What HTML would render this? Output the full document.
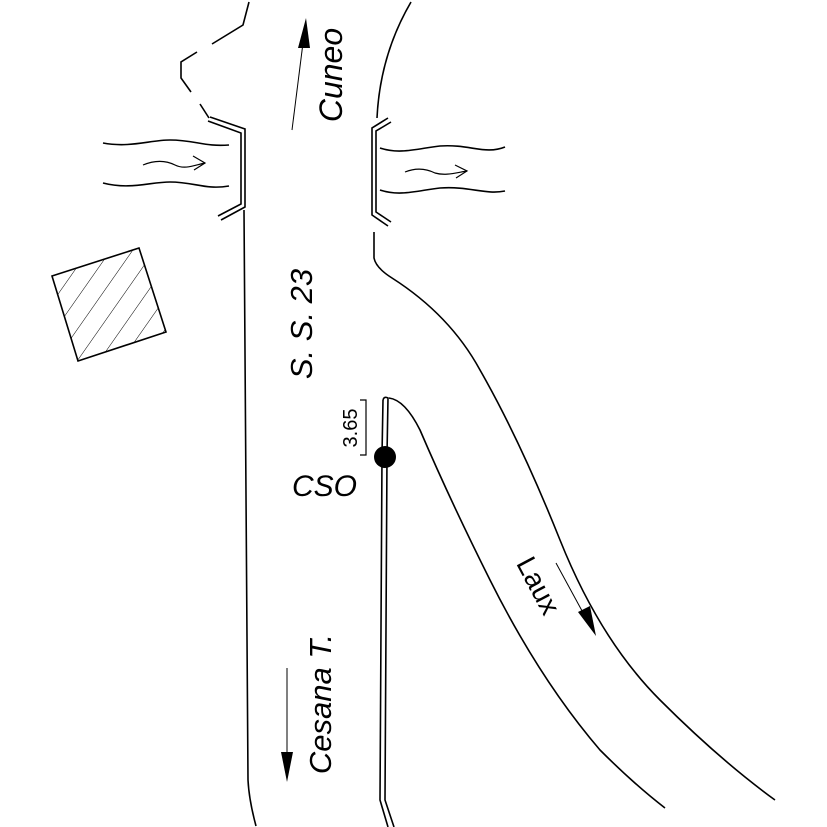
<!DOCTYPE html>
<html><head><style>body{margin:0;background:#fff}svg{display:block}</style></head><body>
<svg width="827" height="827" viewBox="0 0 827 827" xmlns="http://www.w3.org/2000/svg">
<defs>
<pattern id="h" patternUnits="userSpaceOnUse" width="18" height="18" patternTransform="rotate(35)">
<line x1="0" y1="0" x2="0" y2="18" stroke="#000" stroke-width="1"/></pattern>
</defs>
<g fill="none" stroke="#000" stroke-width="1.6">
<path d="M249 2 L243 25 L212 44"/>
<path d="M197 52 L181 62 L181 78 L191 92"/>
<path d="M200 104 L209 118"/>
<path d="M208 121 L241 133 L241 204 L218 216"/>
<path d="M210 117 L245 129 L245 207 L221 220"/>
<path d="M244 210 L248 780 Q249 800 256 826"/>
<path d="M411 2 Q380 55 377 118"/>
<path d="M388 118 L372 128 L372 215 L388 226"/>
<path d="M391 122 L376 131 L376 212 L391 222"/>
<path d="M374 232 L374 258 Q376 268 392 278 Q450 315 480 370 Q520 440 560 540 Q600 640 660 700 Q720 760 775 800"/>
<path d="M389 398 Q405 400 420 430 Q450 500 490 580 Q540 680 600 750 Q635 785 665 808"/>
<path d="M383 400 Q384 396 388 398 L387 455 L385 800 L394 827"/>
<path d="M383 400 L382 455 L380 800 L388 827"/>
<path d="M360 400 L366 400 L366 455 L360 455" stroke-width="1.2"/>
<path d="M103 143 C130 148 150 140 170 140 C195 140 205 147 229 145"/>
<path d="M103 183 C130 190 150 182 170 182 C195 182 205 190 229 186"/>
<path d="M143 165 C155 160 165 160 175 165 C185 170 195 165 205 163" stroke-width="1.2"/>
<path d="M193 156 L205 163 L194 170" stroke-width="1.2"/>
<path d="M380 148 C400 155 420 148 440 146 C470 144 485 155 505 147"/>
<path d="M380 190 C400 197 420 190 440 188 C470 186 485 195 505 191"/>
<path d="M405 172 C415 168 425 168 435 173 C445 176 455 173 467 171" stroke-width="1.2"/>
<path d="M455 165 L467 171 L456 178" stroke-width="1.2"/>
<polygon points="52,276 139,248 166,332 78,361" fill="url(#h)"/>
<path d="M292 130 L304 35" stroke-width="1"/>
<path d="M287 668 L287 760" stroke-width="1"/>
<path d="M556 563 L587 620" stroke-width="1"/>
</g>
<polygon points="306,18 298,48 310,48" fill="#000"/>
<polygon points="287,782 281,752 293,752" fill="#000"/>
<polygon points="596,636 578,612 590,606" fill="#000"/>
<circle cx="385" cy="457" r="11" fill="#000"/>
<g font-family="Liberation Sans, sans-serif" fill="#000">
<text transform="translate(342,75) rotate(-90)" font-size="32" font-style="italic" text-anchor="middle">Cuneo</text>
<text transform="translate(312,324) rotate(-90)" font-size="31" font-style="italic" text-anchor="middle">S. S. 23</text>
<text transform="translate(357,428) rotate(-90)" font-size="20" text-anchor="middle">3.65</text>
<text x="292" y="496" font-size="30" font-style="italic">CSO</text>
<text transform="translate(331,704) rotate(-90)" font-size="31" font-style="italic" text-anchor="middle">Cesana T.</text>
<text transform="translate(530,590) rotate(62)" font-size="28" text-anchor="middle">Laux</text>
</g>
</svg>
</body></html>
